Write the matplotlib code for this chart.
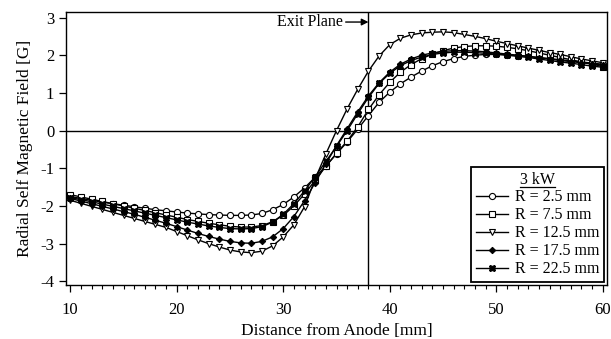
import matplotlib
matplotlib.use("Agg")
import matplotlib.pyplot as plt
from matplotlib.lines import Line2D
from matplotlib.ticker import MultipleLocator

plt.rcParams['font.family'] = ['Liberation Serif', 'DejaVu Serif']
plt.rcParams['axes.unicode_minus'] = False

distance = list(range(10, 61))

r_2_5 = [-1.75, -1.80, -1.85, -1.90, -1.94, -1.98, -2.02, -2.06, -2.10, -2.13,
         -2.16, -2.19, -2.21, -2.23, -2.24, -2.25, -2.25, -2.24, -2.20, -2.10,
         -1.96, -1.76, -1.52, -1.24, -0.94, -0.62, -0.30, 0.04, 0.40, 0.75,
         1.02, 1.24, 1.42, 1.58, 1.72, 1.83, 1.91, 1.97, 2.00, 2.02,
         2.02, 2.01, 1.99, 1.97, 1.94, 1.91, 1.88, 1.85, 1.82, 1.79, 1.76]
r_7_5 = [-1.70, -1.76, -1.82, -1.88, -1.94, -2.00, -2.06, -2.12, -2.18, -2.24,
         -2.30, -2.36, -2.41, -2.46, -2.50, -2.54, -2.56, -2.56, -2.52, -2.42,
         -2.25, -2.00, -1.68, -1.32, -0.95, -0.60, -0.28, 0.10, 0.56, 0.95,
         1.28, 1.55, 1.75, 1.91, 2.03, 2.12, 2.19, 2.23, 2.25, 2.25,
         2.24, 2.21, 2.17, 2.12, 2.06, 2.00, 1.94, 1.88, 1.82, 1.76, 1.70]
r_12_5 = [-1.85, -1.93, -2.01, -2.09, -2.17, -2.25, -2.33, -2.41, -2.49, -2.57,
          -2.68, -2.79, -2.90, -3.00, -3.09, -3.17, -3.22, -3.24, -3.20, -3.06,
          -2.82, -2.50, -2.02, -1.28, -0.62, 0.00, 0.58, 1.10, 1.58, 1.98,
          2.28, 2.45, 2.54, 2.59, 2.61, 2.62, 2.60, 2.55, 2.50, 2.44,
          2.37, 2.31, 2.25, 2.19, 2.13, 2.07, 2.02, 1.96, 1.90, 1.85, 1.80]
r_17_5 = [-1.80, -1.87, -1.94, -2.01, -2.08, -2.15, -2.22, -2.30, -2.38, -2.46,
          -2.55, -2.64, -2.73, -2.81, -2.88, -2.94, -2.98, -2.99, -2.94, -2.82,
          -2.60, -2.28, -1.86, -1.38, -0.88, -0.40, 0.05, 0.50, 0.92, 1.27,
          1.55, 1.76, 1.90, 2.00, 2.06, 2.10, 2.12, 2.12, 2.11, 2.09,
          2.06, 2.03, 2.00, 1.97, 1.93, 1.90, 1.86, 1.83, 1.80, 1.77, 1.74]
r_22_5 = [-1.78, -1.83, -1.89, -1.95, -2.01, -2.07, -2.13, -2.19, -2.25, -2.31,
          -2.37, -2.43, -2.48, -2.53, -2.57, -2.60, -2.61, -2.60, -2.55, -2.43,
          -2.22, -1.94, -1.60, -1.22, -0.82, -0.42, 0.00, 0.45, 0.88, 1.25,
          1.52, 1.72, 1.86, 1.95, 2.02, 2.06, 2.08, 2.08, 2.07, 2.05,
          2.03, 2.00, 1.97, 1.94, 1.90, 1.86, 1.82, 1.79, 1.75, 1.71, 1.68]

series = [
    ("R = 2.5 mm", r_2_5, 'o', 'white'),
    ("R = 7.5 mm", r_7_5, 's', 'white'),
    ("R = 12.5 mm", r_12_5, 'v', 'white'),
    ("R = 17.5 mm", r_17_5, 'D', 'black'),
    ("R = 22.5 mm", r_22_5, 'X', 'black'),
]

exit_plane = 38
xticks = [10, 20, 30, 40, 50, 60]
yticks = [-4, -3, -2, -1, 0, 1, 2, 3]

fig = plt.figure(figsize=(6.11, 3.39), dpi=100)
ax = fig.add_axes([0.108, 0.159, 0.8855, 0.806])

ms = {'o': 4.4, 's': 4.2, 'v': 4.7, 'D': 3.2, 'X': 4.7}
for label, vals, mk, fc in series:
    ax.plot(distance, vals, color='black', lw=1.0, marker=mk, ms=ms[mk],
            mfc=fc, mec='black', mew=0.8, label=label)

ax.axhline(0, color='black', lw=1.0, zorder=0)
ax.axvline(exit_plane, color='black', lw=1.0, zorder=0)

ax.set_xlim(9.6, 60.4)
ax.set_ylim(-4.1, 3.15)
ax.set_xticks(xticks)
ax.set_yticks(yticks)
ax.xaxis.set_minor_locator(MultipleLocator(1))
ax.tick_params(axis='both', which='major', direction='out', length=5,
               width=0.9, labelsize=12, colors='black')
ax.tick_params(axis='x', which='major', pad=7)
ax.tick_params(axis='x', which='minor', direction='out', length=3, width=0.8)
for s in ax.spines.values():
    s.set_linewidth(1.0)
    s.set_color('black')

ax.set_xlabel("Distance from Anode [mm]", fontsize=12.5, labelpad=4)
ax.set_ylabel("Radial Self Magnetic Field [G]", fontsize=12.5, labelpad=5)

ax.annotate("Exit Plane", xy=(exit_plane, 2.88), xytext=(35.6, 2.88),
            ha='right', va='center', fontsize=11.5,
            arrowprops=dict(arrowstyle='-|>', color='black', lw=1.0,
                            mutation_scale=10, shrinkA=0, shrinkB=0))

leg = ax.legend(title="3 kW", loc='lower right', fontsize=11.5,
                title_fontsize=11.5, frameon=True, fancybox=False,
                edgecolor='black', framealpha=1, handlelength=2.0,
                handletextpad=0.4, borderpad=0.3, labelspacing=0.12,
                borderaxespad=0.2)
leg.get_frame().set_linewidth(1.3)

fig.canvas.draw()
tt = leg.get_title()
bb = tt.get_window_extent(fig.canvas.get_renderer())
inv = fig.transFigure.inverted()
(x0, y0), (x1, y1) = inv.transform([(bb.x0, bb.y0 + 1), (bb.x1, bb.y0 + 1)])
fig.add_artist(Line2D([x0, x1], [y0, y1], transform=fig.transFigure,
                      color='black', lw=0.9))

fig.savefig("out.png", dpi=100)
